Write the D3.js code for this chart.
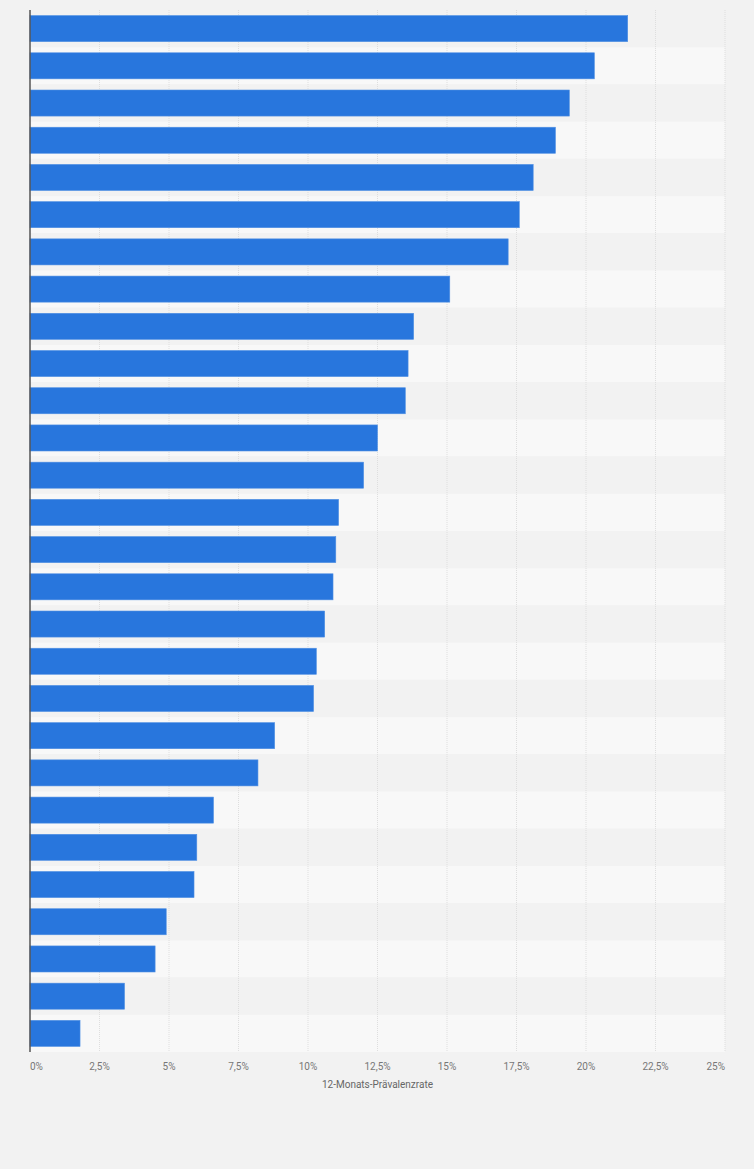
<!DOCTYPE html>
<html>
<head>
    <meta charset="utf-8">
    <title>12-Monats-Prävalenzrate</title>
    <script src="https://d3js.org/d3.v7.min.js"></script>
    <style>
        body {
            margin: 0;
            background: #f2f2f2;
        }
        .grid line {
            stroke: #dedede;
            stroke-dasharray: 1,1;
        }
        .tick-label {
            font-family: Roboto, sans-serif;
            font-size: 10px;
            fill: #777;
        }
        .axis-title {
            font-family: Roboto, sans-serif;
            font-size: 10px;
            fill: #666;
        }
    </style>
</head>
<body>
    <svg width="754" height="1169"></svg>

    <script>
        // Data (no category labels shown)
        const categories = d3.range(1, 29).map(String);
        const values = [21.5, 20.3, 19.4, 18.9, 18.1, 17.6, 17.2, 15.1, 13.8, 13.6,
                        13.5, 12.5, 12.0, 11.1, 11.0, 10.9, 10.6, 10.3, 10.2, 8.8,
                        8.2, 6.6, 6.0, 5.9, 4.9, 4.5, 3.4, 1.8];
        const tickValues = [0, 2.5, 5, 7.5, 10, 12.5, 15, 17.5, 20, 22.5, 25];
        const tickLabels = ["0%", "2,5%", "5%", "7,5%", "10%", "12,5%", "15%", "17,5%", "20%", "22,5%", "25%"];
        const axisTitle = "12-Monats-Prävalenzrate";

        const data = categories.map((c, i) => ({ name: c, value: values[i] }));

        const svg = d3.select("svg");
        const margin = { top: 10, left: 30, right: 29, bottom: 117 };
        const width = +svg.attr("width");
        const height = +svg.attr("height");

        const x = d3.scaleLinear()
            .domain([0, 25])
            .range([margin.left, width - margin.right]);

        const y = d3.scaleBand()
            .domain(categories)
            .range([margin.top, height - margin.bottom])
            .paddingInner(0.3)
            .paddingOuter(0.15);

        const step = y.step();

        // Row stripes
        svg.append("g")
            .selectAll("rect")
            .data(data)
            .enter().append("rect")
            .attr("x", x(0))
            .attr("y", d => y(d.name) - step * 0.15)
            .attr("width", x(25) - x(0))
            .attr("height", step)
            .attr("fill", (d, i) => i % 2 ? "#f8f8f8" : "#f2f2f2");

        // Vertical grid lines
        svg.append("g")
            .attr("class", "grid")
            .selectAll("line")
            .data(tickValues.slice(1))
            .enter().append("line")
            .attr("x1", d => x(d))
            .attr("x2", d => x(d))
            .attr("y1", margin.top)
            .attr("y2", height - margin.bottom);

        // Bars
        svg.append("g")
            .selectAll("rect")
            .data(data)
            .enter().append("rect")
            .attr("x", x(0))
            .attr("y", d => y(d.name))
            .attr("width", d => x(d.value) - x(0))
            .attr("height", y.bandwidth())
            .attr("fill", "#2876dd")
            .attr("stroke", "#4f8fe3")
            .attr("stroke-width", 0.6);

        // Left axis line
        svg.append("line")
            .attr("x1", x(0))
            .attr("x2", x(0))
            .attr("y1", margin.top)
            .attr("y2", height - margin.bottom)
            .attr("stroke", "#555")
            .attr("stroke-width", 1.5);

        // Tick labels
        const last = tickValues.length - 1;
        svg.append("g")
            .selectAll("text")
            .data(tickValues)
            .enter().append("text")
            .attr("class", "tick-label")
            .attr("x", d => x(d))
            .attr("y", height - margin.bottom + 18)
            .attr("text-anchor", (d, i) => i === 0 ? "start" : i === last ? "end" : "middle")
            .text((d, i) => tickLabels[i]);

        // Axis title
        svg.append("text")
            .attr("class", "axis-title")
            .attr("x", (x(0) + x(25)) / 2)
            .attr("y", height - margin.bottom + 36)
            .attr("text-anchor", "middle")
            .text(axisTitle);
    </script>
</body>
</html>
